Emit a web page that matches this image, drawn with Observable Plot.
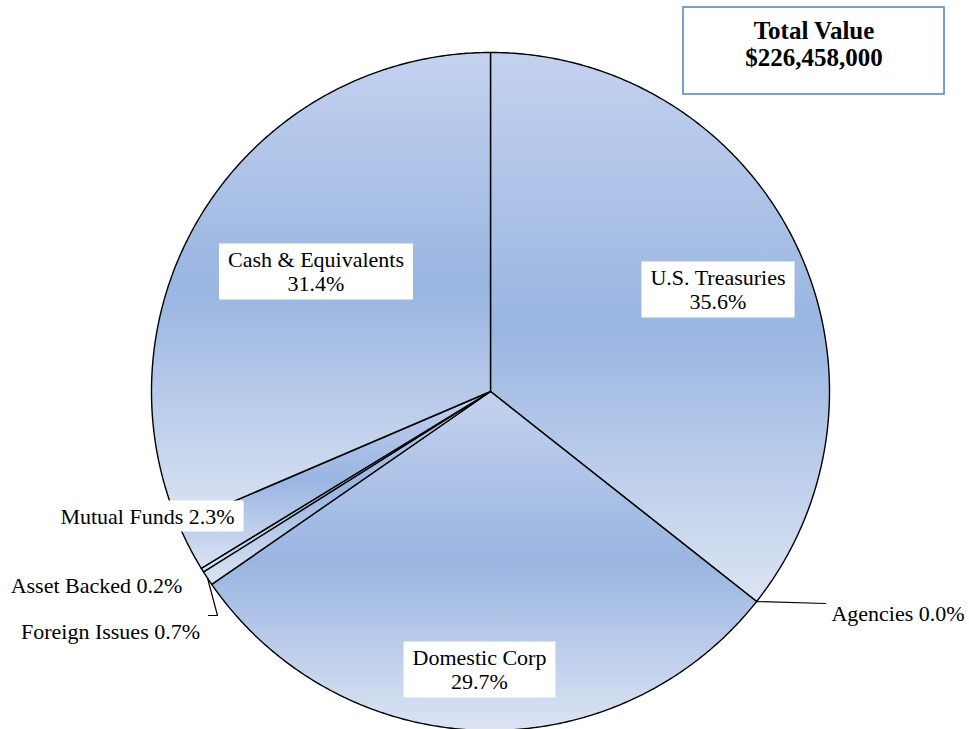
<!DOCTYPE html>
<html><head><meta charset="utf-8">
<script src="https://cdn.jsdelivr.net/npm/d3@7"></script>
<script src="https://cdn.jsdelivr.net/npm/@observablehq/plot@0.6"></script>
<style>
body{margin:0;background:#fff}
#chart{position:relative;width:969px;height:729px}
</style>
</head><body><div id="chart"></div>
<script>
// ---- data ----
const categories = ["U.S. Treasuries","Agencies","Domestic Corp","Foreign Issues","Asset Backed","Mutual Funds","Cash & Equivalents"];
const percents = [35.6, 0.0, 29.7, 0.7, 0.2, 2.3, 31.4];
const totalTitle = "Total Value";
const totalAmount = "$226,458,000";

// ---- layout (pixels) ----
const W = 969, H = 729, CX = 490, CY = 391, R = 339;
const ux = px => (px - CX) / R;
const uy = py => (CY - py) / R;

// label placement (pixel centers) and styling flags
const placement = {
  "U.S. Treasuries":   {x: 717.5, y: 288.5, boxed: true,  twoLine: true},
  "Agencies":          {x: 897.5, y: 613, boxed: false, twoLine: false, leader: [[825, 603]]},
  "Domestic Corp":     {x: 479,   y: 668.5, boxed: true,  twoLine: true},
  "Foreign Issues":    {x: 110,   y: 631, boxed: false, twoLine: false, leader: [[217, 615], [208, 615]]},
  "Asset Backed":      {x: 96,    y: 585, boxed: false, twoLine: false},
  "Mutual Funds":      {x: 147,   y: 515, boxed: true,  twoLine: false},
  "Cash & Equivalents":{x: 315.5, y: 270.5, boxed: true,  twoLine: true}
};

const arcs = d3.pie().sort(null).value(d => d)(percents);

// slice polygons in unit coordinates (angle measured clockwise from 12 o'clock)
const slicePts = [];
arcs.forEach((a, i) => {
  const name = categories[i];
  slicePts.push({name, x: 0, y: 0});
  const n = Math.max(2, Math.ceil((a.endAngle - a.startAngle) / (Math.PI / 360)));
  for (let k = 0; k <= n; k++) {
    const t = a.startAngle + (a.endAngle - a.startAngle) * k / n;
    slicePts.push({name, x: Math.sin(t), y: Math.cos(t)});
  }
  slicePts.push({name, x: 0, y: 0});
});

// labels
const labels = categories.map((name, i) => {
  const p = placement[name];
  const pct = percents[i].toFixed(1) + "%";
  return {name, text: p.twoLine ? name + "\n" + pct : name + " " + pct, x: ux(p.x), y: uy(p.y), boxed: p.boxed};
});

// leader lines
const leaders = [];
arcs.forEach((a, i) => {
  const p = placement[categories[i]];
  if (!p.leader) return;
  const t = (a.startAngle + a.endAngle) / 2;
  leaders.push({name: categories[i], x: Math.sin(t), y: Math.cos(t)});
  p.leader.forEach(([px, py]) => leaders.push({name: categories[i], x: ux(px), y: uy(py)}));
});

const serif = "'Liberation Serif', 'Times New Roman', serif";

const chart = Plot.plot({
  width: W, height: H,
  margin: 0,
  x: {domain: [ux(0), ux(W)], range: [0, W], axis: null},
  y: {domain: [uy(H), uy(0)], range: [H, 0], axis: null},
  style: {background: "white", overflow: "visible"},
  marks: [
    Plot.line(slicePts, {x: "x", y: "y", z: "name", fill: "url(#sliceGrad)", stroke: "#000", strokeWidth: 1.4, strokeLinejoin: "round", curve: "linear"}),
    Plot.line(leaders, {x: "x", y: "y", z: "name", stroke: "#000", strokeWidth: 1.2}),
    Plot.text(labels.filter(d => d.boxed), {x: "x", y: "y", text: "text", fontSize: 22, fontFamily: serif, fill: "#000", lineHeight: 1.136, lineAnchor: "middle", className: "boxed-label"}),
    Plot.text(labels.filter(d => !d.boxed), {x: "x", y: "y", text: "text", fontSize: 22, fontFamily: serif, fill: "#000", lineAnchor: "middle"}),
    Plot.rect([0], {x1: ux(683), x2: ux(944), y1: uy(7), y2: uy(94), fill: "white", stroke: "#5b88c6", strokeWidth: 1.6}),
    Plot.text([totalTitle + "\n" + totalAmount], {x: ux(813.5), y: uy(43.5), text: d => d, fontSize: 25, fontWeight: "bold", fontFamily: serif, fill: "#000", lineHeight: 1.08, lineAnchor: "middle"})
  ]
});

document.getElementById("chart").appendChild(chart);

// gradient definition: light at top and bottom of each slice, deeper blue in its middle
const svg = d3.select(chart);
const defs = svg.insert("defs", ":first-child");
const grad = defs.append("linearGradient").attr("id", "sliceGrad").attr("x1", 0).attr("y1", 0).attr("x2", 0).attr("y2", 1);
grad.append("stop").attr("offset", "0%").attr("stop-color", "#c4d2ee");
grad.append("stop").attr("offset", "50%").attr("stop-color", "#99b5e1");
grad.append("stop").attr("offset", "100%").attr("stop-color", "#dce4f3");

// white backgrounds behind in-pie labels
chart.querySelectorAll("g.boxed-label text").forEach(t => {
  const b = t.getBBox();
  const padX = 9, padY = 3;
  const r = document.createElementNS("http://www.w3.org/2000/svg", "rect");
  r.setAttribute("x", b.x - padX);
  r.setAttribute("y", b.y - padY);
  r.setAttribute("width", b.width + 2 * padX);
  r.setAttribute("height", b.height + 2 * padY);
  r.setAttribute("fill", "white");
  r.setAttribute("stroke", "none");
  const tr = t.getAttribute("transform");
  if (tr) r.setAttribute("transform", tr);
  t.parentNode.insertBefore(r, t);
});
</script>
</body></html>
